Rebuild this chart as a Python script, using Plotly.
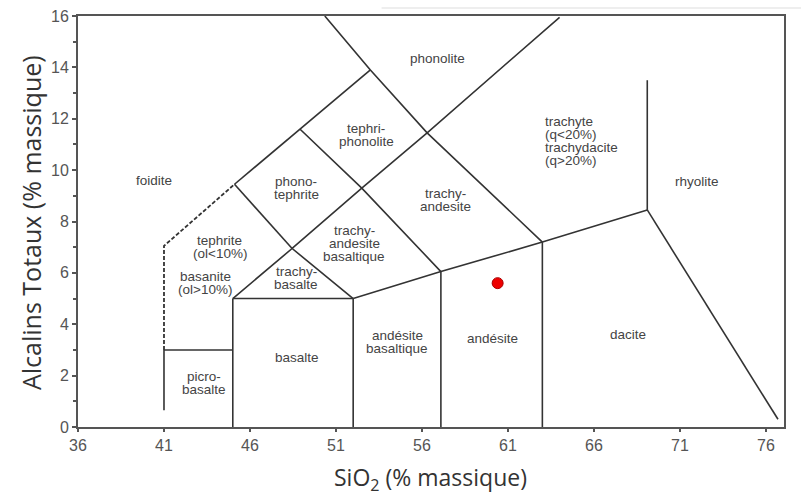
import plotly.graph_objects as go

# ---- data ----
x_ticks = [36, 41, 46, 51, 56, 61, 66, 71, 76]
y_ticks = [0, 2, 4, 6, 8, 10, 12, 14, 16]

# solid field boundaries, each a polyline of (SiO2, alkalis)
boundaries = [
    [(41, 0.65), (41, 3.0)],
    [(41, 3.0), (45, 3.0)],
    [(45, 0), (45, 5.0)],
    [(45, 5.0), (52, 5.0)],
    [(52, 0), (52, 5.0)],
    [(57.1, 0), (57.1, 6.05)],
    [(63, 0), (63, 7.2)],
    [(52, 5.0), (57.1, 6.05), (63, 7.2), (69.1, 8.45)],
    [(69.1, 8.45), (69.1, 13.5)],
    [(69.1, 8.45), (76.7, 0.3)],
    [(45, 5.0), (48.45, 6.95), (52, 5.0)],
    [(45.1, 9.45), (48.45, 6.95)],
    [(48.45, 6.95), (52.5, 9.3), (56.3, 11.45), (64.0, 15.95)],
    [(45.1, 9.45), (48.9, 11.6), (53.0, 13.9)],
    [(50.35, 16), (53.0, 13.9), (56.3, 11.45), (63.0, 7.2)],
    [(48.9, 11.6), (52.5, 9.3), (57.1, 6.05)],
]
# dashed foidite boundary
dashed_boundary = [(41, 3.0), (41, 7.05), (45.1, 9.45)]

# field names (lines) and label centre positions
labels = [
    (["phonolite"], 56.9, 14.35),
    (["foidite"], 40.4, 9.6),
    (["tephri-", "phonolite"], 52.75, 11.35),
    (["phono-", "tephrite"], 48.7, 9.3),
    (["trachy-", "andesite"], 57.35, 8.85),
    (["rhyolite"], 72.0, 9.55),
    (["trachy-", "andesite", "basaltique"], 52.05, 7.15),
    (["tephrite", "(ol<10%)"], 44.25, 7.0),
    (["basanite", "(ol>10%)"], 43.4, 5.6),
    (["trachy-", "basalte"], 48.7, 5.8),
    (["picro-", "basalte"], 43.3, 1.7),
    (["basalte"], 48.75, 2.7),
    (["andésite", "basaltique"], 54.55, 3.3),
    (["andésite"], 60.1, 3.45),
    (["dacite"], 68.0, 3.6),
]
trachyte_label = (["trachyte", "(q<20%)", "trachydacite", "(q>20%)"], 63.1, 11.15)

sample_x = [60.4]
sample_y = [5.6]

# ---- figure ----
fig = go.Figure()
line_style = dict(color="#333333", width=1.6)

for seg in boundaries:
    fig.add_trace(go.Scatter(x=[p[0] for p in seg], y=[p[1] for p in seg],
                             mode="lines", line=line_style,
                             hoverinfo="skip", showlegend=False))
fig.add_trace(go.Scatter(x=[p[0] for p in dashed_boundary],
                         y=[p[1] for p in dashed_boundary],
                         mode="lines",
                         line=dict(color="#333333", width=1.8, dash="4px,2px"),
                         hoverinfo="skip", showlegend=False))

fig.add_trace(go.Scatter(x=sample_x, y=sample_y, mode="markers",
                         marker=dict(color="#ee0000", size=11,
                                     line=dict(color="#aa0000", width=1)),
                         showlegend=False))

label_font = dict(family="Liberation Sans, Arial, sans-serif", size=13.5, color="#444444")
line_gap = 13  # px between label lines


def add_label(lines, x, y, anchor="center"):
    n = len(lines)
    for i, ln in enumerate(lines):
        shift = ((n - 1) / 2 - i) * line_gap
        fig.add_annotation(x=x, y=y, xref="x", yref="y",
                           text=ln.replace("<", "&lt;").replace(">", "&gt;"),
                           showarrow=False, font=label_font, xanchor=anchor,
                           yshift=shift, borderpad=0)


for lines, x, y in labels:
    add_label(lines, x, y)
lines, x, y = trachyte_label
add_label(lines, x, y, anchor="left")

W, H = 801, 497
L, R, T, B = 78, 17, 16, 70
pw, ph = W - L - R, H - T - B


def px_to_paper(px, py):
    return (px - L) / pw, (H - B - py) / ph


# faint screenshot line at the top
_, ytop = px_to_paper(0, 8)
fig.add_shape(type="line", xref="paper", yref="paper", x0=0.43, x1=1.03,
              y0=ytop, y1=ytop, line=dict(color="#dddddd", width=1))

axis_font = dict(family="Liberation Sans, Arial, sans-serif", size=16, color="#555555")

fig.update_xaxes(range=[36, 77.05], tickvals=x_ticks, ticktext=[str(v) for v in x_ticks],
                 ticks="outside", ticklen=3, tickcolor="#555555", tickwidth=1.5,
                 showline=True, linecolor="#555555", linewidth=2, mirror=True,
                 showgrid=False, zeroline=False, tickfont=axis_font, automargin=False)
fig.update_yaxes(range=[0, 16], tickvals=y_ticks, ticktext=[str(v) for v in y_ticks],
                 ticks="outside", ticklen=4, tickcolor="#555555", tickwidth=1.5,
                 minor=dict(dtick=1, ticks="outside", ticklen=3, tickcolor="#555555"),
                 showline=True, linecolor="#555555", linewidth=2, mirror=True,
                 showgrid=False, zeroline=False, tickfont=axis_font, automargin=False)

title_font_family = "Open Sans, Noto Sans, sans-serif"
xt, yt = px_to_paper(430, 478)
fig.add_annotation(x=xt, y=yt, xref="paper", yref="paper", showarrow=False,
                   text="SiO<sub>2</sub> (% massique)", xanchor="center", yanchor="middle",
                   font=dict(family=title_font_family, size=23, color="#333333"))
xt, yt = px_to_paper(31, 223)
fig.add_annotation(x=xt, y=yt, xref="paper", yref="paper", showarrow=False,
                   text="Alcalins Totaux (% massique)", xanchor="center", yanchor="middle",
                   font=dict(family=title_font_family, size=25, color="#333333"),
                   textangle=-90)

fig.update_layout(width=W, height=H,
                  margin=dict(l=L, r=R, t=T, b=B),
                  plot_bgcolor="white", paper_bgcolor="white")

fig.write_html("out.html", config={"displayModeBar": False},
               post_script="document.body.style.margin='0';document.body.style.overflow='hidden';")
